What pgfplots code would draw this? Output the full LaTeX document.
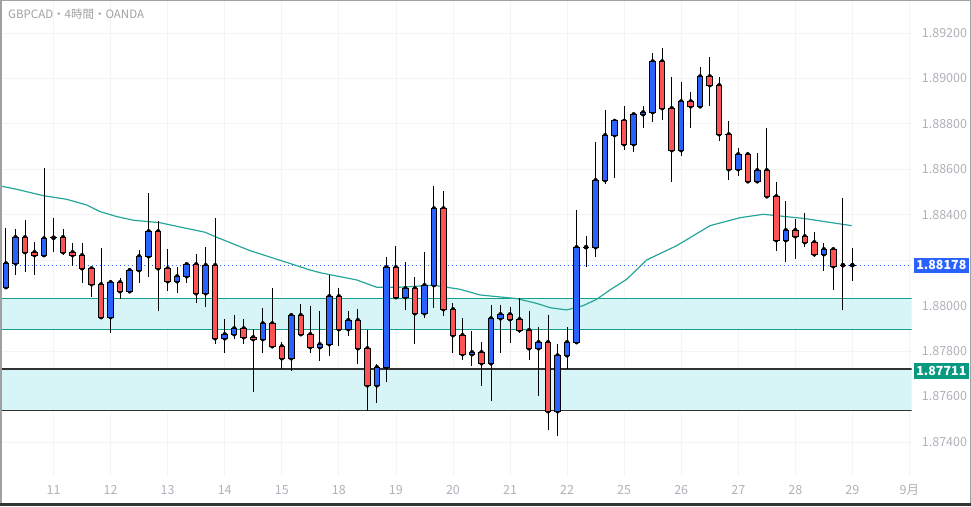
\documentclass[border=0pt]{standalone}
\usepackage{fontspec}
\setmainfont{Noto Sans CJK JP}
\usepackage{pgfplots}
\usepackage{pgfplotstable}
\pgfplotsset{compat=1.18}
\definecolor{upc}{RGB}{41,98,255}
\definecolor{dnc}{RGB}{255,82,82}
\definecolor{mac}{RGB}{38,166,154}
\definecolor{zlc}{RGB}{20,160,140}
\definecolor{zfc}{RGB}{215,244,246}
\definecolor{zdc}{RGB}{50,50,50}
\definecolor{lgc}{RGB}{8,153,129}
\definecolor{tickc}{RGB}{175,177,184}
\definecolor{gridc}{RGB}{244,244,244}
\definecolor{titlec}{RGB}{160,160,160}
\definecolor{framec}{RGB}{160,160,160}

\pgfplotstableread{
i O H L C
1 1.88081 1.88340 1.88081 1.88186
2 1.88186 1.88337 1.88135 1.88301
3 1.88301 1.88377 1.88149 1.88235
4 1.88235 1.88279 1.88135 1.88222
5 1.88222 1.88606 1.88222 1.88296
6 1.88299 1.88384 1.88237 1.88299
7 1.88301 1.88337 1.88223 1.88235
8 1.88235 1.88274 1.88174 1.88222
9 1.88222 1.88274 1.88101 1.88164
10 1.88164 1.88164 1.88039 1.88094
11 1.88094 1.88252 1.87943 1.87949
12 1.87949 1.88113 1.87878 1.88103
13 1.88103 1.88120 1.88028 1.88063
14 1.88063 1.88164 1.88054 1.88156
15 1.88156 1.88245 1.88101 1.88217
16 1.88217 1.88494 1.88127 1.88327
17 1.88327 1.88371 1.87978 1.88164
18 1.88164 1.88249 1.88066 1.88107
19 1.88107 1.88169 1.88057 1.88129
20 1.88129 1.88193 1.88101 1.88182
21 1.88182 1.88227 1.88013 1.88054
22 1.88054 1.88258 1.87995 1.88178
23 1.88178 1.88384 1.87830 1.87856
24 1.87856 1.87940 1.87790 1.87874
25 1.87874 1.87958 1.87852 1.87900
26 1.87900 1.87940 1.87830 1.87861
27 1.87861 1.87896 1.87619 1.87852
28 1.87852 1.87988 1.87790 1.87922
29 1.87922 1.88076 1.87812 1.87821
30 1.87821 1.87839 1.87720 1.87768
31 1.87768 1.87966 1.87714 1.87958
32 1.87958 1.88006 1.87865 1.87874
33 1.87874 1.87997 1.87790 1.87817
34 1.87817 1.87975 1.87755 1.87830
35 1.87830 1.88134 1.87777 1.88041
36 1.88041 1.88076 1.87821 1.87896
37 1.87896 1.87975 1.87865 1.87936
38 1.87936 1.87984 1.87742 1.87812
39 1.87812 1.87892 1.87535 1.87649
40 1.87649 1.87742 1.87570 1.87729
41 1.87729 1.88213 1.87663 1.88169
42 1.88169 1.88261 1.88028 1.88037
43 1.88037 1.88191 1.87980 1.88076
44 1.88076 1.88125 1.87830 1.87966
45 1.87966 1.88235 1.87944 1.88090
46 1.88090 1.88527 1.87988 1.88428
47 1.88428 1.88505 1.87953 1.87984
48 1.87984 1.88010 1.87790 1.87870
49 1.87870 1.87944 1.87759 1.87786
50 1.87786 1.87887 1.87733 1.87795
51 1.87795 1.87839 1.87645 1.87746
52 1.87746 1.88002 1.87579 1.87944
53 1.87944 1.88002 1.87790 1.87962
54 1.87962 1.87993 1.87834 1.87940
55 1.87940 1.88032 1.87878 1.87892
56 1.87892 1.87975 1.87759 1.87812
57 1.87812 1.87905 1.87601 1.87839
58 1.87839 1.87958 1.87451 1.87535
59 1.87535 1.87830 1.87425 1.87781
60 1.87781 1.87905 1.87720 1.87839
61 1.87839 1.88420 1.87839 1.88257
62 1.88257 1.88305 1.88169 1.88257
63 1.88257 1.88720 1.88213 1.88552
64 1.88552 1.88860 1.88534 1.88750
65 1.88750 1.88817 1.88560 1.88813
66 1.88813 1.88879 1.88684 1.88710
67 1.88710 1.88847 1.88675 1.88842
68 1.88842 1.88877 1.88783 1.88851
69 1.88851 1.89111 1.88807 1.89075
70 1.89075 1.89134 1.88816 1.88869
71 1.88869 1.89005 1.88543 1.88684
72 1.88684 1.88983 1.88660 1.88899
73 1.88899 1.88939 1.88781 1.88877
74 1.88877 1.89049 1.88873 1.89009
75 1.89009 1.89093 1.88877 1.88970
76 1.88970 1.89005 1.88723 1.88754
77 1.88754 1.88813 1.88552 1.88600
78 1.88600 1.88693 1.88569 1.88666
79 1.88666 1.88675 1.88543 1.88547
80 1.88547 1.88671 1.88547 1.88596
81 1.88596 1.88781 1.88481 1.88481
82 1.88481 1.88543 1.88239 1.88288
83 1.88288 1.88459 1.88191 1.88332
84 1.88332 1.88380 1.88207 1.88305
85 1.88305 1.88406 1.88257 1.88279
86 1.88279 1.88323 1.88213 1.88226
87 1.88226 1.88274 1.88151 1.88248
88 1.88248 1.88252 1.88068 1.88173
89 1.88178 1.88472 1.87980 1.88178
90 1.88178 1.88252 1.88107 1.88178
}\candles

\pgfplotstableread{
x y
0.369 1.88527
2.125 1.88512
4.92 1.88484
7.38 1.88468
9.49 1.88443
10.88 1.88414
12.64 1.88392
14.39 1.88376
17.19 1.88365
19.64 1.88343
21.93 1.88323
23.16 1.88301
26.66 1.88242
30.16 1.88195
32.97 1.88157
34.02 1.88145
37.88 1.88113
39.98 1.88081
42.43 1.88081
45.93 1.88090
48.74 1.88072
50.84 1.88047
54.70 1.88031
56.80 1.88010
58.20 1.87991
59.96 1.87981
61.70 1.88000
63.11 1.88028
64.51 1.88069
66.27 1.88116
68.37 1.88201
71.53 1.88264
75.03 1.88352
78.19 1.88387
80.63 1.88402
84.84 1.88384
89.93 1.88352
}\matable

\begin{document}
\begin{tikzpicture}
\path[use as bounding box] (0,0) rectangle (971pt,506pt);
\pgfplotsset{
  chartframe/.style={
    at={(0pt,506pt)}, anchor=north west,
    width=911.7pt, height=476pt, scale only axis,
    xmin=0.369, xmax=96.24, ymin=1.872502, ymax=1.893452,
  }
}
\begin{axis}[
  chartframe,
  axis line style={draw=none},
  major tick length=0pt,
  xtick={6,12,...,96},
  xticklabels={11,12,13,14,15,18,19,20,21,22,25,26,27,28,29,9月},
  ytick={1.874,1.876,1.878,1.880,1.882,1.884,1.886,1.888,1.890,1.892},
  yticklabels={1.87400,1.87600,1.87800,1.88000,,1.88400,1.88600,1.88800,1.89000,1.89200},
  yticklabel pos=right,
  scaled y ticks=false,
  grid=major,
  major grid style={gridc, line width=0.8pt},
  xticklabel style={font=\fontsize{12.5}{14}\selectfont, text=tickc, anchor=base, inner sep=0pt, yshift=-19pt},
  yticklabel style={font=\fontsize{12.5}{14}\selectfont, text=tickc, anchor=west, inner sep=0pt, xshift=10pt},
]
% zones
\addplot[draw=none, fill=zfc] coordinates {(0.369,1.88032) (96.24,1.88032) (96.24,1.87896) (0.369,1.87896)} -- cycle;
\addplot[draw=none, fill=zfc] coordinates {(0.369,1.87721) (96.24,1.87721) (96.24,1.87539) (0.369,1.87539)} -- cycle;
\addplot[zlc, line width=1.2pt] coordinates {(0.369,1.88032) (96.24,1.88032)};
\addplot[zlc, line width=1.2pt] coordinates {(0.369,1.87896) (96.24,1.87896)};
\addplot[zdc, line width=1.2pt] coordinates {(0.369,1.87721) (96.24,1.87721)};
\addplot[zdc, line width=1.2pt] coordinates {(0.369,1.87539) (96.24,1.87539)};
% current price
\addplot[upc, line width=1pt, dash pattern=on 1pt off 3pt] coordinates {(0.369,1.88178) (96.24,1.88178)};
% moving average
\addplot[mac, line width=1.2pt] table[x=x, y=y] {\matable};
% wicks
\addplot[black, only marks, mark=none,
  error bars/.cd, y dir=both, y explicit, error mark=none,
  error bar style={black, line width=1pt}]
  table[x=i, y=C, y error plus expr=\thisrow{H}-\thisrow{C}, y error minus expr=\thisrow{C}-\thisrow{L}] {\candles};
% open ticks (visible for doji candles, hidden under bodies otherwise)
\addplot[black, only marks, mark=none,
  error bars/.cd, x dir=both, x fixed=0.342, error mark=none,
  error bar style={black, line width=1pt}]
  table[x=i, y=O] {\candles};
\coordinate (lp) at (axis cs:96.24,1.88178);
\coordinate (lg) at (axis cs:96.24,1.87711);
\end{axis}

\begin{axis}[
  chartframe,
  hide axis,
  ybar stacked,
  bar width=5.5pt,
]
\addplot[draw=none, fill=none] table[x=i, y expr={min(\thisrow{O},\thisrow{C})}] {\candles};
\addplot[fill=upc, draw=black, line width=1pt] table[x=i, y expr={max(\thisrow{C}-\thisrow{O},0)}] {\candles};
\addplot[fill=dnc, draw=black, line width=1pt] table[x=i, y expr={max(\thisrow{O}-\thisrow{C},0)}] {\candles};
\end{axis}

% price labels
\node[fill=upc, text=white, font=\fontsize{12.5}{14}\selectfont\bfseries, minimum width=55.7pt, minimum height=14.7pt, inner sep=0pt, anchor=west] at ([xshift=1.6pt]lp) {1.88178};
\node[fill=lgc, text=white, font=\fontsize{12.5}{14}\selectfont\bfseries, minimum width=55.7pt, minimum height=16pt, inner sep=0pt, anchor=west] at ([xshift=1.6pt]lg) {1.87711};

% title
\node[anchor=base west, font=\fontsize{11.5}{13}\selectfont, text=titlec, inner sep=0pt] at (8pt,487pt) {GBPCAD・4時間・OANDA};

% frame
\draw[framec, line width=1.5pt] (0.75pt,3pt) -- (0.75pt,505.25pt) -- (970.25pt,505.25pt) -- (970.25pt,3pt);
\draw[black!80, line width=3pt] (0pt,1.5pt) -- (971pt,1.5pt);
\end{tikzpicture}
\end{document}
